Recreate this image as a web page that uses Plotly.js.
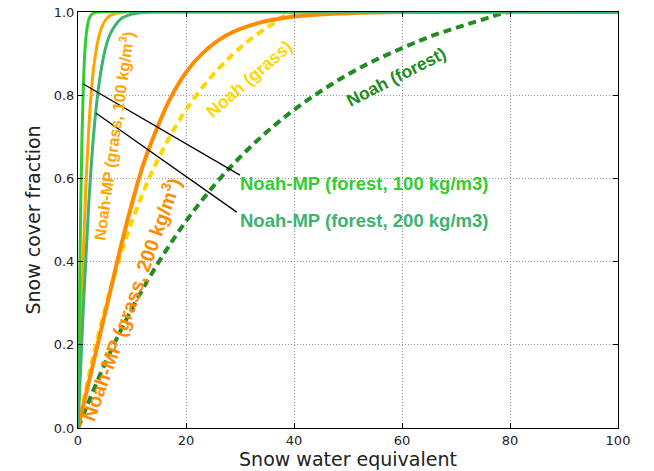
<!DOCTYPE html>
<html>
<head>
<meta charset="utf-8">
<script src="https://cdn.plot.ly/plotly-3.0.1.min.js"></script>
<style>html,body{margin:0;padding:0;background:#fff}#chart{width:654px;height:471px}</style>
</head>
<body>
<div id="chart"></div>
<script>
// Noah (grass) - dashed gold
const noahGrassX = [0, 2, 4, 6, 8, 10, 12, 14, 16, 18, 20, 24, 28, 32, 36, 40, 100];
const noahGrassY = [0, 0.126, 0.236, 0.334, 0.420, 0.497, 0.564, 0.624, 0.676, 0.723, 0.765, 0.834, 0.890, 0.935, 0.971, 1.0, 1.0];
// Noah (forest) - dashed forest green
const noahForestX = [0, 5, 10, 15, 20, 25, 30, 35, 40, 45, 50, 55, 60, 65, 70, 75, 80, 100];
const noahForestY = [0, 0.155, 0.287, 0.400, 0.497, 0.580, 0.651, 0.712, 0.765, 0.810, 0.850, 0.884, 0.913, 0.940, 0.962, 0.982, 1.0, 1.0];
// Noah-MP (grass, 100 kg/m3) - orange
const mpGrass100X = [0, 0.5, 1, 1.5, 2, 2.5, 3, 4, 5, 6, 8, 10, 100];
const mpGrass100Y = [0, 0.223, 0.426, 0.593, 0.721, 0.813, 0.877, 0.948, 0.979, 0.992, 0.999, 1.0, 1.0];
// Noah-MP (grass, 200 kg/m3) - dark orange
const mpGrass200X = [0, 2, 4, 6, 8, 10, 12, 14, 17, 20, 23, 27.5, 33, 40, 50, 60, 100];
const mpGrass200Y = [0, 0.11, 0.22, 0.33, 0.44, 0.54, 0.63, 0.70, 0.79, 0.855, 0.90, 0.944, 0.972, 0.989, 0.997, 1.0, 1.0];
// Noah-MP (forest, 100 kg/m3) - lime green
const mpForest100X = [0, 0.25, 0.5, 0.75, 1.0, 1.25, 1.5, 2, 2.5, 3, 4, 100];
const mpForest100Y = [0, 0.286, 0.529, 0.707, 0.826, 0.900, 0.943, 0.982, 0.994, 0.998, 1.0, 1.0];
// Noah-MP (forest, 200 kg/m3) - medium sea green
const mpForest200X = [0, 1, 2, 3, 4, 5, 6, 8, 10, 12, 15, 100];
const mpForest200Y = [0, 0.294, 0.541, 0.721, 0.837, 0.908, 0.948, 0.984, 0.995, 0.999, 1.0, 1.0];

const xTicks = [0, 20, 40, 60, 80, 100];
const yTicks = [0.0, 0.2, 0.4, 0.6, 0.8, 1.0];

// pointer lines (from curve to label)
const pointerX0 = [0.98, 3.3];
const pointerY0 = [0.827, 0.757];
const pointerX1 = [30.0, 29.4];
const pointerY1 = [0.608, 0.519];

const labelTexts = ['Noah-MP (forest, 100 kg/m3)', 'Noah-MP (forest, 200 kg/m3)',
  'Noah-MP (grass, 100 kg/m<sup>3</sup>)', 'Noah-MP (grass, 200 kg/m<sup>3</sup>)',
  'Noah (grass)', 'Noah (forest)'];
const labelX = [29.6, 29.6, 6.5, 9.7, 31.7, 58.9];
const labelY = [0.587, 0.499, 0.702, 0.31, 0.838, 0.843];

const C = {
  gold: '#FFD700', forest: '#228B22', orange: '#FFA500', dorange: '#FF8C00',
  lime: '#32CD32', sea: '#3CB371'
};

const traces = [
  {x: noahGrassX, y: noahGrassY, mode: 'lines', line: {color: C.gold, width: 4, dash: '8px,5px', shape: 'spline'}},
  {x: noahForestX, y: noahForestY, mode: 'lines', line: {color: C.forest, width: 4, dash: '8px,5px', shape: 'spline'}},
  {x: mpGrass100X, y: mpGrass100Y, mode: 'lines', line: {color: C.orange, width: 3, shape: 'spline'}},
  {x: mpGrass200X, y: mpGrass200Y, mode: 'lines', line: {color: C.dorange, width: 4, shape: 'spline'}},
  {x: mpForest100X, y: mpForest100Y, mode: 'lines', line: {color: C.lime, width: 3, shape: 'spline'}},
  {x: mpForest200X, y: mpForest200Y, mode: 'lines', line: {color: C.sea, width: 3, shape: 'spline'}}
];

const shapes = pointerX0.map((v, i) => ({
  type: 'line', xref: 'x', yref: 'y', x0: v, y0: pointerY0[i], x1: pointerX1[i], y1: pointerY1[i],
  line: {color: '#000', width: 1.3}
}));

const labelFont = 'Liberation Sans, Arial, sans-serif';
const annStyles = [
  {color: C.lime, size: 18.5, angle: 0, xanchor: 'left'},
  {color: C.sea, size: 18.5, angle: 0, xanchor: 'left'},
  {color: C.orange, size: 16, angle: -82, xanchor: 'center'},
  {color: C.dorange, size: 19.5, angle: -70, xanchor: 'center'},
  {color: C.gold, size: 17.5, angle: -41, xanchor: 'center'},
  {color: C.forest, size: 17.5, angle: -27, xanchor: 'center'}
];
const annotations = labelTexts.map((t, i) => ({
  text: '<b>' + t + '</b>', x: labelX[i], y: labelY[i], xref: 'x', yref: 'y',
  showarrow: false, xanchor: annStyles[i].xanchor, yanchor: 'middle', textangle: annStyles[i].angle,
  font: {family: labelFont, size: annStyles[i].size, color: annStyles[i].color}
}));

const axisCommon = {
  showline: true, linecolor: '#000', linewidth: 1, mirror: 'ticks',
  ticks: 'inside', ticklen: 5, tickcolor: '#000', tickwidth: 1,
  showgrid: true, gridcolor: '#999', gridwidth: 1, griddash: '1px,2px',
  zeroline: false, tickfont: {family: 'DejaVu Sans', size: 13, color: '#222'}
};

const layout = {
  width: 654, height: 471,
  margin: {l: 78, r: 36, t: 12, b: 43},
  paper_bgcolor: '#fff', plot_bgcolor: '#fff',
  showlegend: false,
  xaxis: Object.assign({}, axisCommon, {
    range: [0, 100], tickvals: xTicks, ticktext: xTicks.map(String),
    title: {text: 'Snow water equivalent', font: {family: 'DejaVu Sans', size: 19, color: '#222'}, standoff: 4}
  }),
  yaxis: Object.assign({}, axisCommon, {
    range: [0, 1], tickvals: yTicks, ticktext: yTicks.map(v => v.toFixed(1)),
    title: {text: 'Snow cover fraction', font: {family: 'DejaVu Sans', size: 19, color: '#222'}, standoff: 8}
  }),
  shapes: shapes,
  annotations: annotations
};

Plotly.newPlot('chart', traces, layout, {displayModeBar: false, staticPlot: true});
</script>
</body>
</html>
